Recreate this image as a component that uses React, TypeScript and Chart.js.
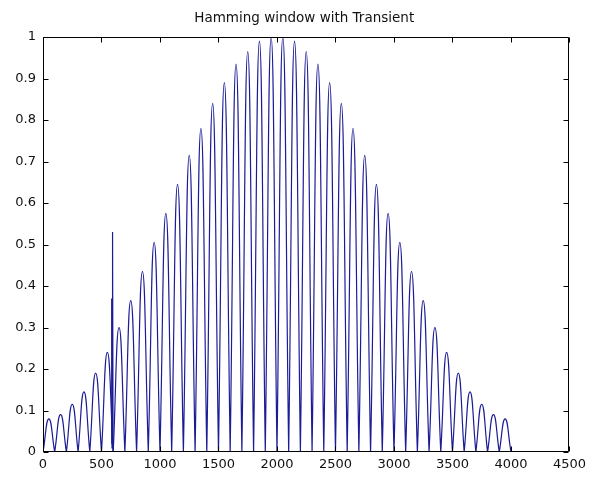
import React, { useEffect, useRef } from "react";
import { Chart, registerables } from "chart.js";

Chart.register(...registerables);

const TITLE = "Hamming window with Transient";

// zero crossings of the rectified, windowed tone
const lobeZeros: number[] = [
  0, 100, 200, 300, 400, 500, 600, 700, 800, 900, 1000, 1100, 1200, 1300,
  1400, 1500, 1600, 1700, 1800, 1900, 2000, 2100, 2200, 2300, 2400, 2500,
  2600, 2700, 2800, 2900, 3000, 3100, 3200, 3300, 3400, 3500, 3600, 3700,
  3800, 3900, 4000,
];

// height of each lobe (one per gap between zeros)
const lobePeaks: number[] = [
  0.08, 0.09, 0.115, 0.145, 0.19, 0.24, 0.3, 0.365, 0.435, 0.505,
  0.575, 0.645, 0.715, 0.78, 0.84, 0.89, 0.935, 0.965, 0.99, 1.0,
  1.0, 0.99, 0.965, 0.935, 0.89, 0.84, 0.78, 0.715, 0.645, 0.575,
  0.505, 0.435, 0.365, 0.3, 0.24, 0.19, 0.145, 0.115, 0.09, 0.08,
];

// short burst near sample 600
const transientX: number[] = [584, 587, 590, 593, 596, 599];
const transientY: number[] = [0.02, 0.37, 0.01, 0.36, 0.53, 0.0];

const xTicks: number[] = [0, 500, 1000, 1500, 2000, 2500, 3000, 3500, 4000, 4500];
const yTicks: number[] = [0, 0.1, 0.2, 0.3, 0.4, 0.5, 0.6, 0.7, 0.8, 0.9, 1];

const FONT = '"DejaVu Sans", sans-serif';
const LINE = "#1c1c96";

function buildSignal() {
  const pts: { x: number; y: number }[] = [];
  for (let i = 0; i < lobePeaks.length; i++) {
    const a = lobeZeros[i];
    const b = lobeZeros[i + 1];
    // each lobe starts and ends on its own zero point so the joins stay sharp
    pts.push({ x: a, y: 0 });
    pts.push({ x: (a + b) / 2, y: lobePeaks[i] });
    pts.push({ x: b, y: 0 });
  }
  return pts;
}

const frame = {
  id: "frame",
  afterDraw(chart: any) {
    const { ctx, chartArea: a, scales } = chart;
    const xs = scales.x;
    const ys = scales.y;
    const L = Math.round(a.left) + 0.5;
    const R = Math.round(a.right) - 0.5;
    const T = Math.round(a.top) + 0.5;
    const B = Math.round(a.bottom) - 0.5;
    const tl = 5;
    ctx.save();
    ctx.strokeStyle = "#000";
    ctx.lineWidth = 1;
    ctx.beginPath();
    ctx.rect(L, T, R - L, B - T);
    for (const v of xTicks) {
      const px = Math.round(xs.getPixelForValue(v)) + 0.5;
      ctx.moveTo(px, B);
      ctx.lineTo(px, B - tl);
      ctx.moveTo(px, T);
      ctx.lineTo(px, T + tl);
    }
    for (const v of yTicks) {
      const py = Math.round(ys.getPixelForValue(v)) + 0.5;
      ctx.moveTo(L, py);
      ctx.lineTo(L + tl, py);
      ctx.moveTo(R, py);
      ctx.lineTo(R - tl, py);
    }
    ctx.stroke();
    ctx.fillStyle = "#111";
    ctx.font = `13.5px ${FONT}`;
    ctx.textAlign = "center";
    ctx.textBaseline = "alphabetic";
    ctx.fillText(TITLE, (a.left + a.right) / 2 - 2, 22);
    ctx.restore();
  },
};

export default function App() {
  const ref = useRef<HTMLCanvasElement | null>(null);

  useEffect(() => {
    if (!ref.current) return;
    const chart = new Chart(ref.current, {
      type: "line",
      data: {
        datasets: [
          {
            data: buildSignal(),
            borderColor: LINE,
            borderWidth: 1.2,
            pointRadius: 0,
            tension: 0.5,
            fill: false,
          },
          {
            data: transientX.map((x, i) => ({ x, y: transientY[i] })),
            borderColor: LINE,
            borderWidth: 1.2,
            pointRadius: 0,
            tension: 0,
            fill: false,
          },
        ],
      },
      options: {
        responsive: false,
        animation: false,
        events: [],
        layout: { padding: { left: 0, top: 37, right: 19, bottom: 0 } },
        plugins: {
          legend: { display: false },
          tooltip: { enabled: false },
          title: { display: false },
        },
        scales: {
          x: {
            type: "linear",
            min: 0,
            max: 4500,
            grid: { display: false, drawTicks: false },
            border: { display: false },
            afterFit: (s: any) => {
              s.height = 26;
            },
            afterBuildTicks: (s: any) => {
              s.ticks = xTicks.map((v) => ({ value: v }));
            },
            ticks: {
              autoSkip: false,
              maxRotation: 0,
              padding: 5,
              color: "#111",
              font: { family: FONT, size: 13 },
              callback: (v: any) => String(v),
            },
          },
          y: {
            type: "linear",
            min: 0,
            max: 1,
            grid: { display: false, drawTicks: false },
            border: { display: false },
            afterFit: (s: any) => {
              s.width = 43;
            },
            afterBuildTicks: (s: any) => {
              s.ticks = yTicks.map((v) => ({ value: v }));
            },
            ticks: {
              autoSkip: false,
              padding: 7,
              color: "#111",
              font: { family: FONT, size: 13 },
              callback: (v: any) => String(Math.round(Number(v) * 10) / 10),
            },
          },
        },
      },
      plugins: [frame],
    });
    return () => chart.destroy();
  }, []);

  return (
    <div
      style={{
        position: "fixed",
        left: 0,
        top: 0,
        width: 591,
        height: 478,
        background: "#fff",
      }}
    >
      <canvas ref={ref} width={591} height={478} />
    </div>
  );
}
